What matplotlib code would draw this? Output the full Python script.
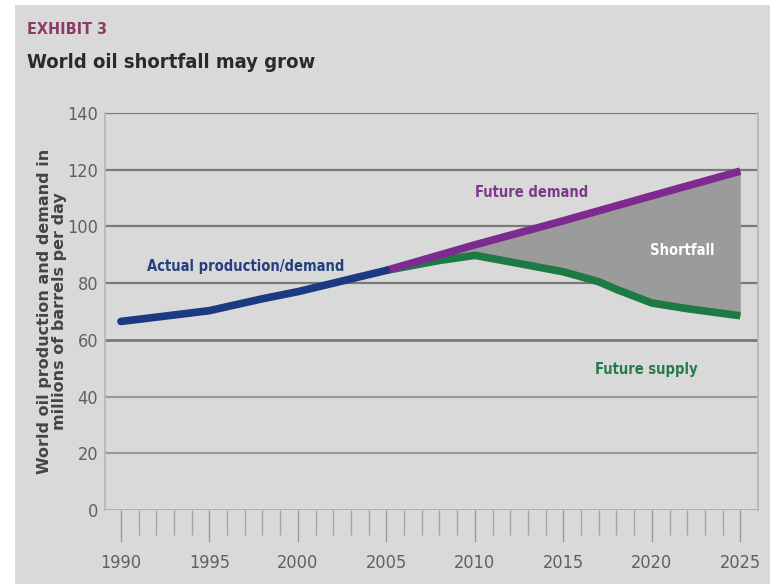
import matplotlib
matplotlib.use("Agg")
import matplotlib.pyplot as plt
from matplotlib.patches import Rectangle
import numpy as np

# Historical production/demand (million barrels per day)
actual_years = [1990, 1992, 1995, 1998, 2000, 2003, 2005]
actual_vals = [66.5, 68.0, 70.3, 74.5, 77.0, 81.5, 84.5]

# Projected demand
demand_years = [2005, 2010, 2015, 2020, 2025]
demand_vals = [84.5, 93.5, 102.0, 110.8, 119.5]

# Projected supply
supply_years = [2005, 2008, 2010, 2012, 2015, 2017, 2018, 2020, 2022, 2025]
supply_vals = [84.5, 88.0, 89.8, 87.5, 84.0, 80.5, 77.8, 73.0, 71.0, 68.5]

y_ticks = [0, 20, 40, 60, 80, 100, 120, 140]
x_labels = [1990, 1995, 2000, 2005, 2010, 2015, 2020, 2025]

W, H = 777, 584
fig = plt.figure(figsize=(W / 100, H / 100), dpi=100, facecolor="white")
fig.patches.append(Rectangle((15 / W, 0), (770 - 15) / W, (H - 5) / H,
                             transform=fig.transFigure, facecolor="#d9d9d9",
                             edgecolor="none", zorder=-10))

narrow = dict(family="DejaVu Sans", fontstretch="condensed")

ax = fig.add_axes([105 / W, 1 - 510 / H, (758 - 105) / W, (510 - 113) / H])
ax.set_facecolor("#d9d9d9")
ax.set_xlim(1989.1, 2026.0)
ax.set_ylim(0, 140)

for v in y_ticks:
    col = "#7a7a7a" if v >= 60 else "#9a9a9a"
    lw = 2.0 if v == 60 else 1.6
    if v == 0:
        col, lw = "#b0b0b0", 1.4
    ax.axhline(v, color=col, lw=lw, zorder=1)

for s in ["top", "bottom"]:
    ax.spines[s].set_visible(False)
for s in ["left", "right"]:
    ax.spines[s].set_color("#b5b5b5")
    ax.spines[s].set_linewidth(1.2)

# Shortfall band between demand and supply
yrs = np.arange(2005, 2025.01, 0.25)
d_i = np.interp(yrs, demand_years, demand_vals)
s_i = np.interp(yrs, supply_years, supply_vals)
ax.fill_between(yrs, s_i, d_i, color="#9b9b9b", lw=0, zorder=2)

ax.plot(supply_years, supply_vals, color="#1e7a45", lw=5.5,
        solid_capstyle="butt", zorder=3)
ax.plot(demand_years, demand_vals, color="#7d2b8e", lw=5.5,
        solid_capstyle="butt", zorder=4)
ax.plot(actual_years, actual_vals, color="#1c3a82", lw=5.5,
        solid_capstyle="round", zorder=5)

# Ticks
ax.set_yticks(y_ticks)
ax.set_yticklabels([str(v) for v in y_ticks], fontsize=13,
                   color="#606060", **narrow)
ax.tick_params(axis="y", length=0, pad=5)
ax.set_xticks(x_labels)
ax.set_xticklabels([str(v) for v in x_labels], fontsize=13,
                   color="#606060", **narrow)
ax.set_xticks(np.arange(1990, 2026, 1), minor=True)
ax.tick_params(axis="x", which="major", length=23, width=1.0,
               color="#9a9a9a", pad=9)
ax.tick_params(axis="x", which="minor", length=18, width=1.0,
               color="#a5a5a5")

# Annotations
ax.text(1991.5, 86, "Actual production/demand", fontsize=10.5,
        fontweight="bold", color="#243f80", va="center", zorder=6, **narrow)
ax.text(2010.0, 112, "Future demand", fontsize=10.5,
        fontweight="bold", color="#7a3a88", va="center", zorder=6, **narrow)
ax.text(2019.9, 91.5, "Shortfall", fontsize=10.5,
        fontweight="bold", color="white", va="center", zorder=6, **narrow)
ax.text(2016.8, 49.5, "Future supply", fontsize=10.5,
        fontweight="bold", color="#237a4a", va="center", zorder=6, **narrow)

ax.set_ylabel("World oil production and demand in\nmillions of barrels per day",
              family="DejaVu Sans", fontsize=11.5, fontweight="bold",
              color="#444444", linespacing=1.0)
ax.yaxis.set_label_coords(-0.058, 0.5)

fig.text(27 / W, 1 - 30 / H, "EXHIBIT 3", fontsize=11.5,
         fontweight="bold", color="#8a3c62", va="center", ha="left", **narrow)
fig.text(27 / W, 1 - 63 / H, "World oil shortfall may grow",
         fontsize=14.5, fontweight="bold", color="#2a2a2a", va="center",
         ha="left", **narrow)

fig.savefig("out.png", dpi=100, facecolor="white")
